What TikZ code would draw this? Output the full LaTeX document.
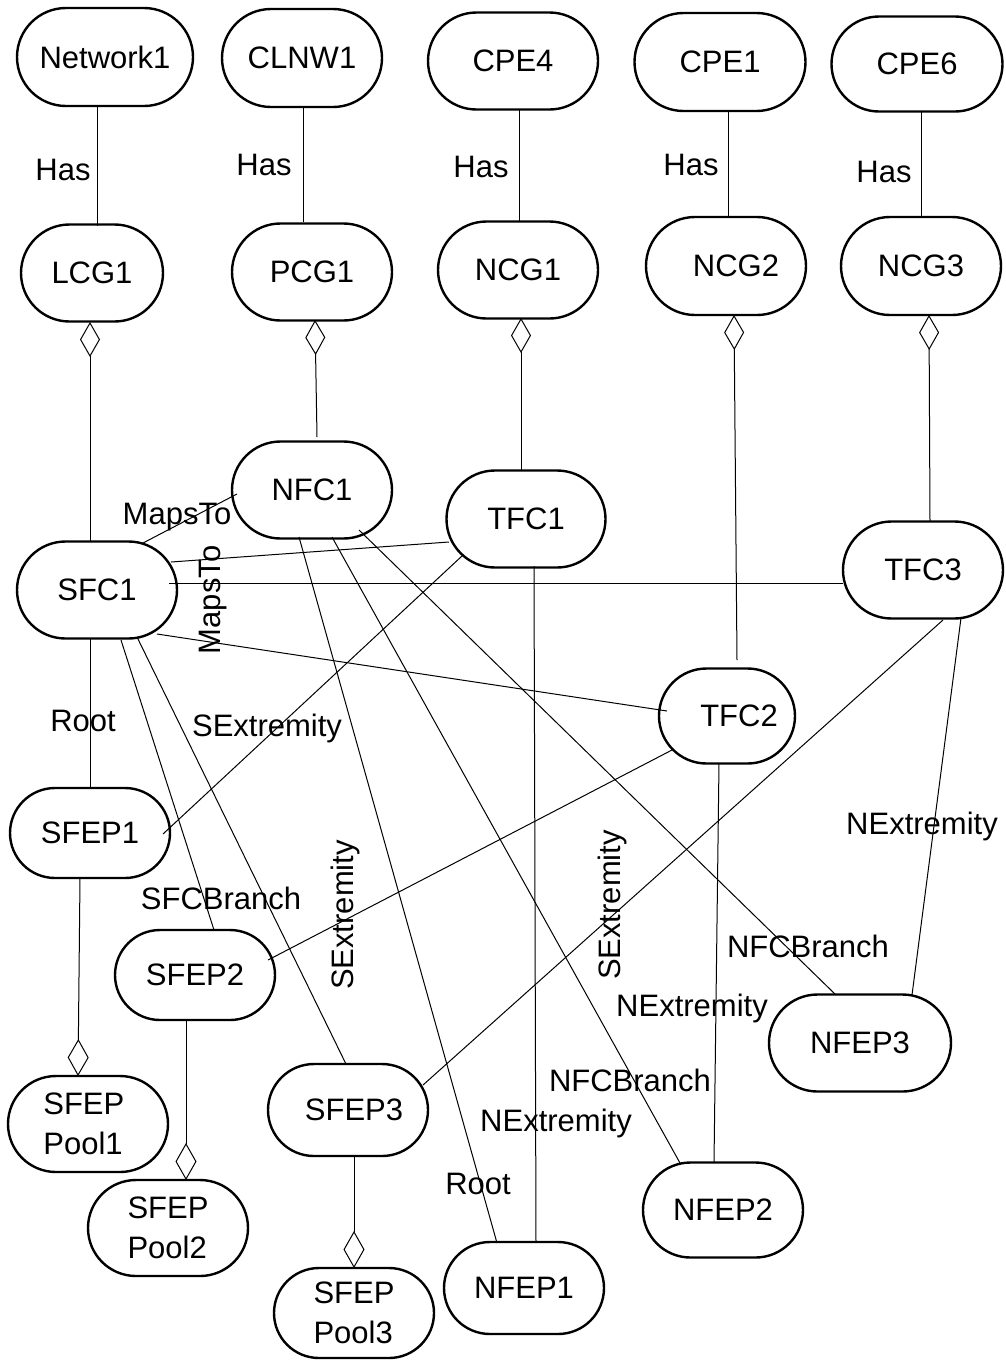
\documentclass[tikz,border=0pt]{standalone}
\usepackage{fontspec}
\setmainfont{Liberation Sans}
\usetikzlibrary{shapes.misc,arrows.meta}
\tikzset{
  ent/.style={draw, rounded rectangle, line width=2.4pt, minimum width=160pt, minimum height=97pt, inner sep=0pt, align=left},
  pool/.style={ent, font=\fontsize{31}{40}\selectfont},
  conn/.style={line width=1pt},
  aggtop/.style={line width=1pt, {Diamond[open,length=35pt,width=20pt,line width=1pt]}-},
  aggbot/.style={line width=1pt, -{Diamond[open,length=37pt,width=21pt,line width=1pt]}},
  lbl/.style={inner sep=0pt}
}
\begin{document}
\begin{tikzpicture}[x=1pt,y=-1pt,font=\fontsize{31}{38}\selectfont]
\useasboundingbox (0,0) rectangle (1005,1361);
% top row
\node[ent, minimum width=176pt, minimum height=98pt] (Network1) at (105,57) {Network1};
\node[ent, minimum height=98pt] (CLNW1) at (302,58) {CLNW1};
\node[ent, minimum width=170pt] (CPE4) at (513,61) {CPE4};
\node[ent, minimum width=171pt, minimum height=98pt] (CPE1) at (720,62) {CPE1};
\node[ent, minimum width=171pt, minimum height=95pt] (CPE6) at (917,64) {CPE6};
% groups
\node[ent, minimum width=142pt] (LCG1) at (92,273) {LCG1};
\node[ent] (PCG1) at (312,272) {PCG1};
\node[ent] (NCG1) at (518,270) {NCG1};
\node[ent, minimum height=98pt] (NCG2) at (726,266) {\hspace*{20pt}NCG2};
\node[ent, minimum height=98pt] (NCG3) at (921,266) {NCG3};
% chains
\node[ent] (NFC1) at (312,490) {NFC1};
\node[ent, minimum width=159pt] (TFC1) at (526,519) {TFC1};
\node[ent] (SFC1) at (97,590) {SFC1};
\node[ent] (TFC3) at (923,570) {TFC3};
\node[ent, minimum width=136pt, minimum height=95pt] (TFC2) at (727,716) {\hspace*{24pt}TFC2};
% endpoints
\node[ent, minimum height=90pt] (SFEP1) at (90,833) {SFEP1};
\node[ent, minimum height=90pt] (SFEP2) at (195,975) {SFEP2};
\node[ent, minimum height=92pt] (SFEP3) at (348,1110) {\hspace*{12pt}SFEP3};
\node[pool, minimum height=96pt] (Pool1) at (88,1124) {SFEP\\Pool1\hspace*{10pt}};
\node[pool, minimum height=96pt] (Pool2) at (168,1228) {SFEP\\Pool2};
\node[pool, minimum height=90pt] (Pool3) at (354,1313) {SFEP\\Pool3};
\node[ent, minimum height=92pt] (NFEP1) at (524,1288) {NFEP1};
\node[ent, minimum height=95pt] (NFEP2) at (723,1210) {NFEP2};
\node[ent, minimum width=182pt, minimum height=97pt] (NFEP3) at (860,1043) {NFEP3};

% Has
\draw[conn] ([shift={(-8,49)}]Network1.center) -- ([shift={(5,-47)}]LCG1.center);
\draw[conn] ([shift={(1,49)}]CLNW1.center) -- ([shift={(-9,-50)}]PCG1.center);
\draw[conn] ([shift={(6,48)}]CPE4.center) -- ([shift={(1,-49)}]NCG1.center);
\draw[conn] ([shift={(8,49)}]CPE1.center) -- ([shift={(2,-49)}]NCG2.center);
\draw[conn] ([shift={(4,48)}]CPE6.center) -- ([shift={(0,-50)}]NCG3.center);
% aggregations at groups
\draw[aggtop] ([shift={(-2,49)}]LCG1.center) -- ([shift={(-7,-48)}]SFC1.center);
\draw[aggtop] ([shift={(3,48)}]PCG1.center) -- ([shift={(5,-53)}]NFC1.center);
\draw[aggtop] ([shift={(3,48)}]NCG1.center) -- ([shift={(-5,-48)}]TFC1.center);
\draw[aggtop] ([shift={(8,49)}]NCG2.center) -- ([shift={(10,-56)}]TFC2.center);
\draw[aggtop] ([shift={(8,49)}]NCG3.center) -- ([shift={(7,-49)}]TFC3.center);
% SFC1 mappings
\draw[conn] ([shift={(46,-47)}]SFC1.center) -- ([shift={(-75,4)}]NFC1.center);
\draw[conn] ([shift={(74,-28)}]SFC1.center) -- ([shift={(-77,23)}]TFC1.center);
\draw[conn] ([shift={(72,-7)}]SFC1.center) -- ([shift={(-80,13)}]TFC3.center);
\draw[conn] ([shift={(60,44)}]SFC1.center) -- ([shift={(-60,-5)}]TFC2.center);
% SFC1 endpoints
\draw[conn] ([shift={(-7,49)}]SFC1.center) -- ([shift={(0,-45)}]SFEP1.center);
\draw[conn] ([shift={(24,50)}]SFC1.center) -- ([shift={(19,-45)}]SFEP2.center);
\draw[conn] ([shift={(40,47)}]SFC1.center) -- ([shift={(-2,-46)}]SFEP3.center);
% TFC - SFEP
\draw[conn] ([shift={(-64,37)}]TFC1.center) -- ([shift={(73,1)}]SFEP1.center);
\draw[conn] ([shift={(-55,34)}]TFC2.center) -- ([shift={(73,-15)}]SFEP2.center);
\draw[conn] ([shift={(20,50)}]TFC3.center) -- ([shift={(75,-25)}]SFEP3.center);
% NFC1 endpoints
\draw[conn] ([shift={(-13,47)}]NFC1.center) -- ([shift={(-27,-45)}]NFEP1.center);
\draw[conn] ([shift={(20,47)}]NFC1.center) -- ([shift={(-43,-47)}]NFEP2.center);
\draw[conn] ([shift={(47,40)}]NFC1.center) -- ([shift={(-24,-48)}]NFEP3.center);
% TFC - NFEP
\draw[conn] ([shift={(8,47)}]TFC1.center) -- ([shift={(12,-46)}]NFEP1.center);
\draw[conn] ([shift={(-8,47)}]TFC2.center) -- ([shift={(-9,-47)}]NFEP2.center);
\draw[conn] ([shift={(38,48)}]TFC3.center) -- ([shift={(52,-48)}]NFEP3.center);
% pools
\draw[aggbot] ([shift={(-10,45)}]SFEP1.center) -- ([shift={(-10,-48)}]Pool1.center);
\draw[aggbot] ([shift={(-9,45)}]SFEP2.center) -- ([shift={(18,-48)}]Pool2.center);
\draw[aggbot] ([shift={(6,46)}]SFEP3.center) -- ([shift={(0,-45)}]Pool3.center);

% labels
\node[lbl] (l1) at (63,170) {Has};
\node[lbl] (l2) at (264,165) {Has};
\node[lbl] (l3) at (481,167) {Has};
\node[lbl] (l4) at (691,165) {Has};
\node[lbl] (l5) at (884,172) {Has};
\node[lbl] (l6) at (177,517) {MapsTo};
\node[lbl, rotate=90] (l7) at (213,600) {MapsTo};
\node[lbl] (l8) at (83,721) {Root};
\node[lbl] (l9) at (267,728) {SExtremity};
\node[lbl] (l10) at (221,898) {SFCBranch};
\node[lbl, rotate=90] (l11) at (345,915) {SExtremity};
\node[lbl, rotate=90] (l12) at (612,905) {SExtremity};
\node[lbl] (l13) at (922,826) {NExtremity};
\node[lbl] (l14) at (808,946) {NFCBranch};
\node[lbl] (l15) at (692,1008) {NExtremity};
\node[lbl] (l16) at (630,1080) {NFCBranch};
\node[lbl] (l17) at (556,1123) {NExtremity};
\node[lbl] (l18) at (478,1184) {Root};
\end{tikzpicture}
\end{document}
